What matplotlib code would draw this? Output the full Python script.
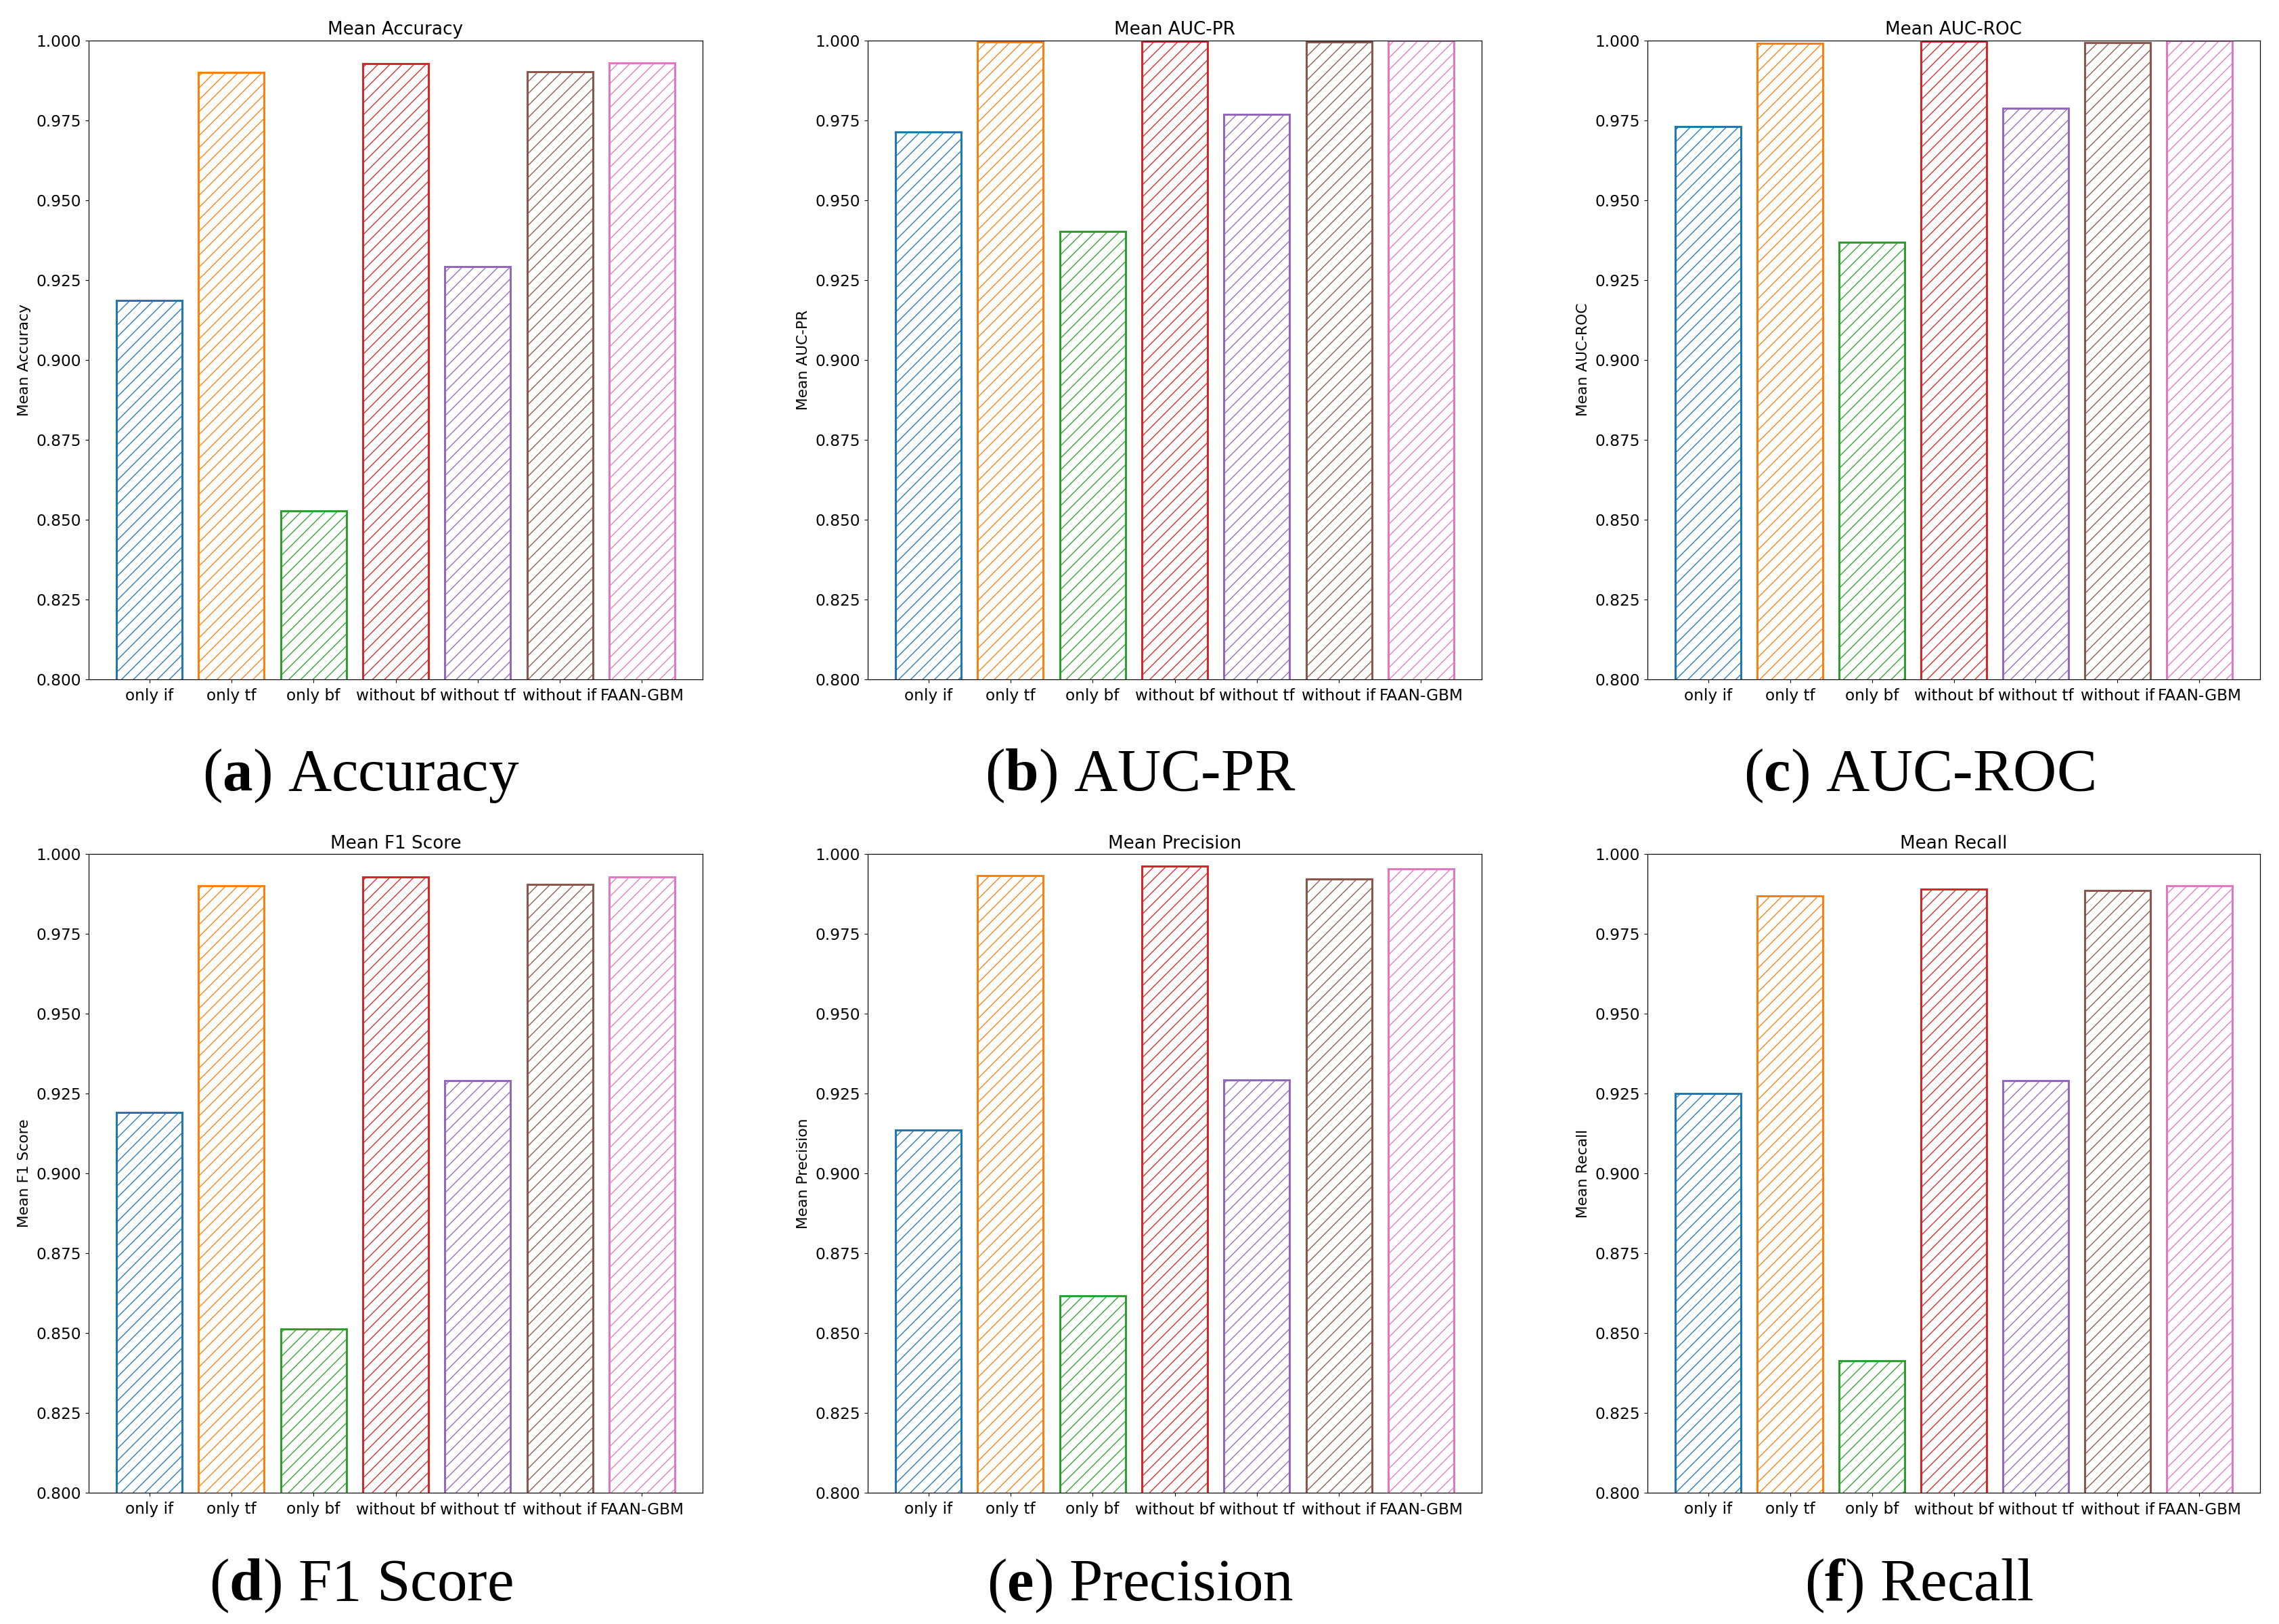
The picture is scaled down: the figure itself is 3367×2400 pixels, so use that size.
import matplotlib
matplotlib.use("Agg")
import matplotlib.pyplot as plt

# ---------------- data ----------------
categories = ["only if", "only tf", "only bf", "without bf", "without tf", "without if", "FAAN-GBM"]
colors = ["#1f77b4", "#ff7f0e", "#2ca02c", "#d62728", "#9467bd", "#8c564b", "#e377c2"]

accuracy = [0.9186, 0.9899, 0.8528, 0.9926, 0.9292, 0.9902, 0.9930]
auc_pr = [0.9714, 0.9994, 0.9402, 0.9996, 0.9768, 0.9994, 0.9999]
auc_roc = [0.9729, 0.9991, 0.9368, 0.9996, 0.9788, 0.9993, 0.9999]
f1_score = [0.9190, 0.9900, 0.8513, 0.9927, 0.9291, 0.9904, 0.9928]
precision = [0.9135, 0.9932, 0.8616, 0.9961, 0.9292, 0.9922, 0.9954]
recall = [0.9251, 0.9868, 0.8414, 0.9890, 0.9291, 0.9886, 0.9901]

titles = ["Mean Accuracy", "Mean AUC-PR", "Mean AUC-ROC",
          "Mean F1 Score", "Mean Precision", "Mean Recall"]
captions_letter = ["a", "b", "c", "d", "e", "f"]
captions_text = ["Accuracy", "AUC-PR", "AUC-ROC", "F1 Score", "Precision", "Recall"]
yticks = [0.800, 0.825, 0.850, 0.875, 0.900, 0.925, 0.950, 0.975, 1.000]
ylim = (0.8, 1.0)

series = [accuracy, auc_pr, auc_roc, f1_score, precision, recall]

# ---------------- layout ----------------
W, H, DPI = 3367, 2400, 106
def P(px):
    return px * 72.0 / DPI

plt.rcParams["mathtext.fontset"] = "custom"
plt.rcParams["mathtext.rm"] = "Liberation Serif"
plt.rcParams["mathtext.bf"] = "Liberation Serif:bold"
plt.rcParams["hatch.linewidth"] = P(1.3)

fig = plt.figure(figsize=(W / DPI, H / DPI), dpi=DPI)
fig.patch.set_facecolor("white")

col_left = [131, 1282, 2434]
col_w = [907, 907, 905]
row_top = [59.5, 1262]
row_h = 944.3
cap_base = [1168, 2365]

for i, vals in enumerate(series):
    r, c = divmod(i, 3)
    l = col_left[c]
    t = row_top[r]
    ax = fig.add_axes([l / W, 1 - (t + row_h) / H, col_w[c] / W, row_h / H])
    x = list(range(len(categories)))
    ax.bar(x, vals, width=0.8, facecolor="none", edgecolor=colors,
           linewidth=P(3.0), hatch="//")
    ax.set_ylim(*ylim)
    ax.set_yticks(yticks)
    ax.set_yticklabels([f"{v:.3f}" for v in yticks])
    ax.set_xticks(x)
    ax.set_xticklabels(categories)
    ax.tick_params(axis="both", labelsize=P(23.3), length=P(4.7),
                   width=P(1.1), pad=P(6))
    ax.tick_params(axis="x", pad=P(8.5))
    for sp in ax.spines.values():
        sp.set_linewidth(P(1.2))
    ax.set_title(titles[i], fontsize=P(26.3), pad=P(8.5))
    ax.set_ylabel(titles[i], fontsize=P(21.8), labelpad=P(8))

    cx = (l + col_w[c] / 2 - 51) / W
    cy = 1 - cap_base[r] / H
    fig.text(cx, cy, r"($\mathbf{" + captions_letter[i] + r"}$) " + captions_text[i],
             ha="center", va="baseline", fontsize=P(89),
             family="Liberation Serif")

fig.savefig("out.png", dpi=DPI, facecolor="white")
